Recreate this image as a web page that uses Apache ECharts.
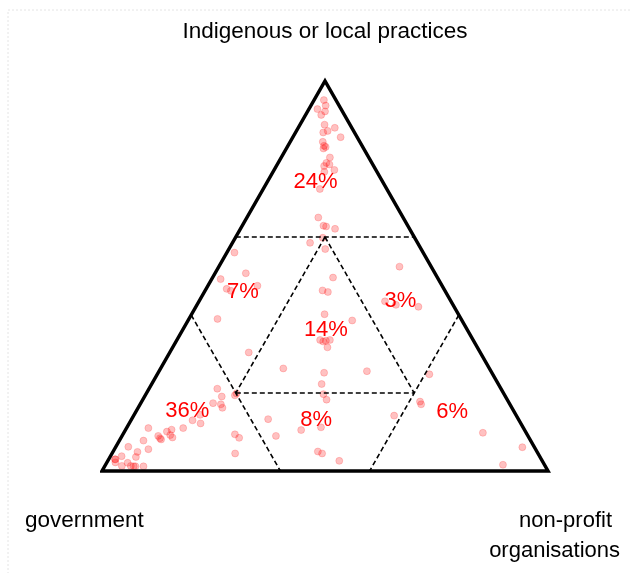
<!DOCTYPE html>
<html>
<head>
<meta charset="utf-8">
<script src="https://cdn.jsdelivr.net/npm/echarts@6/dist/echarts.min.js"></script>
<style>
  html, body { margin: 0; padding: 0; background: #fff; }
  #chart { width: 632px; height: 573px; }
</style>
</head>
<body>
<div id="chart"></div>
<script>
// shares in percent; government is what is left (100 - indigenous - nonprofit)
const indigenous = [95.1, 93.7, 92.8, 92.2, 91.3, 88.8, 88.0, 86.8, 87.2, 85.6,
  84.4, 83.4, 83.1, 82.7, 80.4, 79.0, 78.2, 78.6, 77.2, 76.7,
  72.3, 65.0, 62.9, 62.7, 62.1, 59.8, 58.5, 56.9, 56.0, 50.7,
  49.2, 46.7, 46.2, 47.5, 46.3, 45.9, 39.0, 40.2, 33.6, 33.2,
  33.4, 33.6, 31.7, 30.4, 26.3, 25.2, 22.3, 21.1, 52.4, 49.6,
  43.5, 42.6, 42.1, 38.6, 25.6, 24.8, 19.9, 19.4, 19.7, 18.3,
  19.1, 17.4, 17.1, 16.2, 17.8, 17.1, 14.2, 13.3, 10.5, 11.2,
  9.4, 8.5, 9.0, 4.5, 5.0, 4.5, 2.6, 9.8, 6.1, 1.6,
  14.4, 13.0, 12.2, 11.0, 11.0, 10.6, 10.1, 9.0, 8.4, 8.1,
  9.2, 8.6, 7.8, 6.2, 5.6, 4.9, 3.8, 3.6, 3.0, 2.2,
  2.1, 1.3, 1.3, 1.2, 1.2, 1.2, 3.0];
const nonprofit = [2.2, 3.3, 1.9, 3.9, 3.5, 5.5, 8.2, 6.2, 7.0, 10.7,
  7.3, 8.1, 8.6, 8.3, 10.9, 10.8, 10.7, 11.7, 13.5, 11.5,
  12.7, 16.0, 18.2, 18.9, 21.2, 19.6, 17.4, 21.6, 1.7, 6.9,
  2.0, 4.6, 5.8, 11.1, 26.3, 27.7, 6.4, 29.8, 32.1, 33.0,
  33.5, 34.3, 34.7, 17.7, 27.5, 37.2, 38.1, 15.3, 40.5, 27.0,
  41.7, 44.6, 49.9, 36.8, 46.6, 61.0, 20.2, 20.1, 39.8, 41.2,
  17.3, 16.2, 18.1, 18.9, 62.4, 63.0, 58.4, 30.6, 39.4, 43.5,
  25.1, 26.5, 34.5, 27.6, 45.9, 47.1, 51.9, 80.5, 91.2, 89.1,
  14.8, 13.8, 16.0, 12.7, 4.9, 10.3, 9.5, 8.1, 8.8, 9.2,
  10.7, 11.5, 5.4, 2.8, 7.6, 5.5, 2.5, 5.8, 1.4, 1.9,
  4.7, 3.8, 5.8, 6.5, 6.9, 8.7, 1.5];

// share of responses in each zone
const zones = ['indigenous', 'gov-indigenous', 'indigenous-nonprofit', 'mixed', 'government', 'gov-nonprofit', 'nonprofit'];
const zoneShare = [24, 7, 3, 14, 36, 8, 6];
// where each zone's label sits, as [indigenous, nonprofit]
const zoneLabelAt = [[74, 10.9], [45.8, 8.7], [43.6, 45.1], [36.2, 32.1], [15.4, 11.4], [13, 41.5], [15.2, 70.9]];

const cuts = [20, 60];

// ternary -> plane: x = nonprofit + indigenous / 2, y = indigenous
function toXY(i, n) { return [n + i / 2, i]; }

const lo = cuts[0], hi = cuts[1];
const guideSegs = [
  [[hi, 0], [hi, 100 - hi]],          // indigenous = 60
  [[100 - hi, 0], [0, 100 - hi]],     // government = 60
  [[100 - hi, hi], [0, hi]],          // nonprofit = 60
  [[lo, lo], [lo, 100 - 2 * lo]],     // indigenous = 20 (inner)
  [[100 - 2 * lo, lo], [lo, lo]],     // nonprofit = 20 (inner)
  [[100 - 2 * lo, lo], [lo, 100 - 2 * lo]] // government = 20 (inner)
];

const font = 'Liberation Sans, Arial, Helvetica, sans-serif';
const chart = echarts.init(document.getElementById('chart'));

const series = [];
guideSegs.forEach(function (s) {
  series.push({
    type: 'line', silent: true, clip: false, symbol: 'none', animation: false,
    lineStyle: { color: '#000', width: 1.6, type: [5, 3] },
    data: s.map(function (p) { return toXY(p[0], p[1]); })
  });
});
series.push({
  type: 'line', silent: true, clip: false, symbol: 'none', animation: false,
  lineStyle: { color: '#000', width: 3.5, join: 'miter', miterLimit: 20 },
  data: [[0, 50], [0, 100], [100, 0], [0, 0], [0, 50]].map(function (p) { return toXY(p[0], p[1]); })
});
series.push({
  type: 'scatter', clip: false, animation: false, symbolSize: 7,
  itemStyle: { color: 'rgba(255,0,0,0.3)', borderColor: 'rgba(255,0,0,0.22)', borderWidth: 1 },
  data: indigenous.map(function (v, k) { return toXY(v, nonprofit[k]); })
});
series.push({
  type: 'scatter', clip: false, animation: false, symbolSize: 0, silent: true, z: 5,
  itemStyle: { opacity: 1 },
  label: {
    show: true, position: 'inside', color: '#ff0000', fontSize: 22, fontFamily: font,
    formatter: function (p) { return zoneShare[p.dataIndex] + '%'; }
  },
  data: zoneLabelAt.map(function (p) { return toXY(p[0], p[1]); })
});

chart.setOption({
  backgroundColor: '#fff',
  grid: { left: 102, top: 81, width: 446, height: 390 },
  xAxis: { type: 'value', min: 0, max: 100, show: false },
  yAxis: { type: 'value', min: 0, max: 100, show: false },
  graphic: [
    { type: 'rect', shape: { x: 8, y: 10, width: 700, height: 700 }, silent: true,
      style: { fill: 'none', stroke: '#e4e4e4', lineWidth: 1, lineDash: [2, 2] } },
    { type: 'text', x: 325, y: 32, style: { text: 'Indigenous or local practices', fontSize: 22.5, fontFamily: font, fill: '#000', align: 'center', verticalAlign: 'middle' } },
    { type: 'text', x: 25, y: 521, style: { text: 'government', fontSize: 22.5, fontFamily: font, fill: '#000', align: 'left', verticalAlign: 'middle' } },
    { type: 'text', x: 612, y: 521, style: { text: 'non-profit', fontSize: 22, fontFamily: font, fill: '#000', align: 'right', verticalAlign: 'middle' } },
    { type: 'text', x: 620, y: 551, style: { text: 'organisations', fontSize: 22, fontFamily: font, fill: '#000', align: 'right', verticalAlign: 'middle' } }
  ],
  series: series
});
</script>
</body>
</html>
